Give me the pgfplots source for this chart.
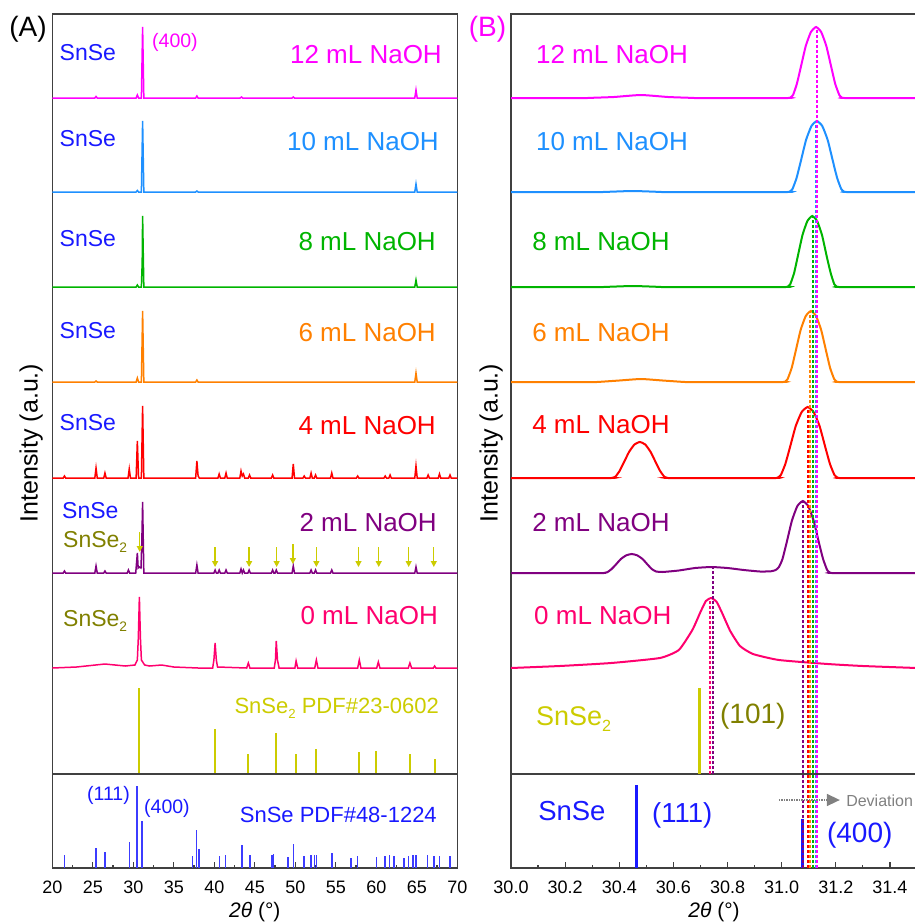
\documentclass[border=0pt]{standalone}
\usepackage{pgfplots}
\pgfplotsset{compat=1.18}
\usepackage{graphicx}
\usepackage{fontspec}
\setmainfont{Liberation Sans}
\usetikzlibrary{arrows.meta}

\newcommand{\fs}[1]{\fontsize{#1}{#1}\selectfont}
\newcommand{\subtwo}{\raisebox{-0.45ex}{\scalebox{0.6}{2}}}

\definecolor{c12}{RGB}{255,0,255}
\definecolor{c10}{RGB}{30,144,255}
\definecolor{c8}{RGB}{0,180,0}
\definecolor{c6}{RGB}{255,128,0}
\definecolor{c4}{RGB}{255,0,0}
\definecolor{c2}{RGB}{128,0,128}
\definecolor{c0}{RGB}{255,0,110}
\definecolor{pdfy}{RGB}{204,204,0}
\definecolor{olivet}{RGB}{128,128,0}
\definecolor{snseb}{RGB}{25,25,255}
\definecolor{pdfb}{RGB}{60,60,255}
\definecolor{frame}{RGB}{64,64,64}
\definecolor{devg}{RGB}{128,128,128}

\pgfplotsset{
  xrdaxis/.style={
    scale only axis, height=854pt, ymin=0, ymax=854, ytick=\empty, clip=false,
    axis line style={line width=1.4pt, draw=frame},
    xtick pos=left, tick align=inside, minor x tick num=1,
    major tick length=6pt, minor tick length=3.5pt,
    tick style={line width=1.2pt, draw=frame},
    xticklabel style={font=\fs{18pt}, inner sep=0pt, yshift=-13pt},
    xlabel={\textit{2θ} (°)},
    xlabel style={font=\fs{21pt}, at={(axis description cs:0.5,0)}, anchor=north, inner sep=0pt, yshift=-34pt},
    ylabel={Intensity (a.u.)},
    ylabel style={font=\fs{25pt}, anchor=south, inner sep=0pt},
    /pgf/number format/assume math mode=true,
  },
  specA/.style={line width=1.5pt},
  specB/.style={line width=2pt, smooth, tension=0.3},
  vdash/.style={line width=2pt, dash pattern=on 3pt off 2pt},
  pdfbar/.style={pdfy, line width=2pt},
}

\begin{document}
\begin{tikzpicture}
\useasboundingbox (0,0) rectangle (915pt,-924pt);

% ===================== Panel A =====================
\begin{axis}[xrdaxis, at={(52.3pt,-868pt)}, anchor=south west, width=405pt,
  xmin=20, xmax=70, xtick={20,25,30,35,40,45,50,55,60,65,70},
  ylabel style={at={(axis description cs:-0.023,0.4977)}}]

% 12 mL
\addplot[c12, specA, y filter/.expression={y+770}] coordinates {
(20,0) (25.25,0) (25.4,1.5) (25.55,0) (30.35,0) (30.5,3) (30.65,0) (31.0,0) (31.15,71) (31.3,0)
(37.7,0) (37.85,2) (38.0,0) (43.2,0) (43.35,1) (43.5,0) (49.6,0) (49.75,1) (49.9,0)
(64.75,0) (64.9,8) (65.05,0) (70,0)};
% 10 mL
\addplot[c10, specA, y filter/.expression={y+676}] coordinates {
(20,0) (30.35,0) (30.5,1.5) (30.65,0) (31.0,0) (31.15,71) (31.3,0) (37.7,0) (37.85,1) (38.0,0)
(64.75,0) (64.9,8) (65.05,0) (70,0)};
% 8 mL
\addplot[c8, specA, y filter/.expression={y+581}] coordinates {
(20,0) (30.35,0) (30.5,2) (30.65,0) (31.0,0) (31.1,25) (31.15,71) (31.3,0)
(64.75,0) (64.9,7) (65.05,0) (70,0)};
% 6 mL
\addplot[c6, specA, y filter/.expression={y+486}] coordinates {
(20,0) (25.25,0) (25.4,1) (25.55,0) (30.35,0) (30.5,4) (30.65,0) (31.0,0) (31.15,71) (31.3,0)
(37.7,0) (37.85,2) (38.0,0) (64.75,0) (64.9,9) (65.05,0) (70,0)};
% 4 mL
\addplot[c4, specA, y filter/.expression={y+390}] coordinates {
(20,0) (21.35,0) (21.5,2) (21.65,0) (25.25,0) (25.4,10) (25.55,0) (26.35,0) (26.5,5) (26.65,0)
(29.35,0) (29.5,9) (29.65,0) (30.35,0) (30.5,37) (30.65,0) (31.0,0) (31.15,72) (31.3,0)
(37.7,0) (37.85,17) (38.0,2) (38.15,0) (40.45,0) (40.6,4) (40.75,0) (41.3,0) (41.45,5) (41.6,0)
(43.15,0) (43.3,7) (43.45,2) (43.6,4) (43.75,0) (44.2,0) (44.35,3) (44.5,0) (47.05,0) (47.2,3) (47.35,0)
(49.6,0) (49.75,14) (49.9,0) (50.95,0) (51.1,2) (51.25,0) (51.8,0) (51.95,5) (52.1,0) (52.35,0) (52.5,3) (52.65,0)
(54.35,0) (54.5,5) (54.65,0) (57.55,0) (57.7,2) (57.85,0) (60.95,0) (61.1,2) (61.25,0) (61.55,0) (61.7,3) (61.85,0)
(64.75,0) (64.9,12) (65.05,0) (66.25,0) (66.4,3) (66.55,0) (67.65,0) (67.8,4) (67.95,0) (68.95,0) (69.1,3) (69.25,0) (70,0)};
% 2 mL
\addplot[c2, specA, y filter/.expression={y+295}] coordinates {
(20,0) (21.35,0) (21.5,2) (21.65,0) (25.25,0) (25.4,7) (25.55,0) (26.35,0) (26.5,2) (26.65,0)
(29.25,0) (29.4,3) (29.55,0) (30.3,0) (30.5,20) (30.6,5) (30.75,6) (30.95,5) (31.05,30) (31.15,71) (31.3,0)
(37.7,0) (37.85,8) (38.0,0) (39.95,0) (40.1,3) (40.25,0) (40.45,0) (40.6,3) (40.75,0) (41.3,0) (41.45,3) (41.6,0)
(43.15,0) (43.3,4) (43.45,0) (43.6,3) (43.75,0) (44.15,0) (44.3,3) (44.45,0) (47.05,0) (47.2,3) (47.35,0)
(47.5,0) (47.65,3) (47.8,0) (49.6,0) (49.75,7) (49.9,0) (51.8,0) (51.95,3) (52.1,0) (52.35,0) (52.5,3) (52.65,0)
(54.35,0) (54.5,3) (54.65,0) (64.75,0) (64.9,6) (65.05,0) (70,0)};
% 0 mL
\addplot[c0, specA, y filter/.expression={y+200}] coordinates {
(20,0) (23,1) (26.5,4) (29,2) (30.2,3) (30.5,8) (30.62,30) (30.75,71) (30.88,30) (31.0,8) (31.4,3) (32,2)
(33.5,3) (35,1) (38,0) (39.8,0) (39.95,8) (40.1,25) (40.25,8) (40.4,1) (44.0,0) (44.2,5) (44.4,0)
(47.4,0) (47.55,8) (47.65,27) (47.8,8) (48.0,0) (49.95,0) (50.1,7) (50.3,0) (52.4,0) (52.6,8) (52.8,0)
(57.7,0) (57.9,8) (58.1,0) (60.05,0) (60.25,6) (60.45,0) (63.95,0) (64.15,5) (64.35,0)
(67.05,0) (67.2,2) (67.35,0) (70,0)};

% SnSe2 PDF bars
\addplot[pdfbar] coordinates {(30.74,94) (30.74,180)};
\addplot[pdfbar] coordinates {(40.1,94) (40.1,139)};
\addplot[pdfbar] coordinates {(44.2,94) (44.2,114)};
\addplot[pdfbar] coordinates {(47.6,94) (47.6,135)};
\addplot[pdfbar] coordinates {(50.1,94) (50.1,114)};
\addplot[pdfbar] coordinates {(52.6,94) (52.6,119)};
\addplot[pdfbar] coordinates {(57.9,94) (57.9,116)};
\addplot[pdfbar] coordinates {(60.0,94) (60.0,117)};
\addplot[pdfbar] coordinates {(64.2,94) (64.2,114)};
\addplot[pdfbar] coordinates {(67.3,94) (67.3,109)};
% separator
\addplot[frame, line width=1.4pt] coordinates {(20,94) (70,94)};
% SnSe PDF bars
\addplot[pdfb, line width=1.5pt, ycomb] coordinates {
(21.5,13) (25.4,20) (26.5,16) (29.5,26) (30.46,82) (31.1,47) (37.3,12) (37.8,38) (38.1,19)
(40.65,12) (41.4,13) (43.4,23) (43.5,20) (44.4,13) (47.1,13) (47.3,14) (49.1,11) (49.8,24)
(51.1,12) (51.96,13) (52.4,13) (52.6,13) (54.5,15) (56.9,10) (57.7,12) (60.0,11) (61.1,12)
(61.6,13) (62.2,12) (63.4,10) (64.0,12) (64.5,13) (64.9,13) (66.3,13) (67.1,12) (67.8,12) (69.1,12)};

% arrows on 2 mL
\addplot[pdfy, line width=1.3pt, -{Triangle[length=6pt,width=6pt]}, quiver={u=0,v=-20}] coordinates {
(30.8,336) (40.1,321) (44.3,321) (47.7,321) (49.7,324) (52.6,321) (57.8,321) (60.3,321) (64.0,321) (67.1,321)};

% texts
\node[anchor=center, font=\fs{28pt}] at (axis description cs:-0.06,0.9824) {(A)};
\node[anchor=base east, inner sep=0pt, font=\fs{26pt}, text=c12] at (axis cs:68.11,804.7) {12 mL NaOH};
\node[anchor=base east, inner sep=0pt, font=\fs{26pt}, text=c10] at (axis cs:67.74,717.3) {10 mL NaOH};
\node[anchor=base east, inner sep=0pt, font=\fs{26pt}, text=c8] at (axis cs:67.37,618) {8 mL NaOH};
\node[anchor=base east, inner sep=0pt, font=\fs{26pt}, text=c6] at (axis cs:67.37,526.3) {6 mL NaOH};
\node[anchor=base east, inner sep=0pt, font=\fs{26pt}, text=c4] at (axis cs:67.37,433.7) {4 mL NaOH};
\node[anchor=base east, inner sep=0pt, font=\fs{26pt}, text=c2] at (axis cs:67.49,337) {2 mL NaOH};
\node[anchor=base east, inner sep=0pt, font=\fs{26pt}, text=c0] at (axis cs:67.62,243.7) {0 mL NaOH};
\node[anchor=base west, inner sep=0pt, font=\fs{23pt}, text=snseb] at (axis cs:20.89,808) {SnSe};
\node[anchor=base west, inner sep=0pt, font=\fs{23pt}, text=snseb] at (axis cs:20.89,722) {SnSe};
\node[anchor=base west, inner sep=0pt, font=\fs{23pt}, text=snseb] at (axis cs:20.89,621.5) {SnSe};
\node[anchor=base west, inner sep=0pt, font=\fs{23pt}, text=snseb] at (axis cs:20.89,530) {SnSe};
\node[anchor=base west, inner sep=0pt, font=\fs{23pt}, text=snseb] at (axis cs:20.89,437.5) {SnSe};
\node[anchor=base west, inner sep=0pt, font=\fs{23pt}, text=snseb] at (axis cs:21.2,350) {SnSe};
\node[anchor=base west, inner sep=0pt, font=\fs{23pt}, text=olivet] at (axis cs:21.32,321) {SnSe\subtwo};
\node[anchor=base west, inner sep=0pt, font=\fs{23pt}, text=olivet] at (axis cs:21.32,242) {SnSe\subtwo};
\node[anchor=base west, inner sep=0pt, font=\fs{19.5pt}, text=c12] at (axis cs:32.31,821) {(400)};
\node[anchor=base west, inner sep=0pt, font=\fs{19.5pt}, text=snseb] at (axis cs:24.28,68) {(111)};
\node[anchor=base west, inner sep=0pt, font=\fs{19.5pt}, text=snseb] at (axis cs:31.32,55) {(400)};
\node[anchor=base east, inner sep=0pt, font=\fs{22pt}, text=snseb] at (axis cs:67.49,46) {SnSe PDF\#48-1224};
\node[anchor=base east, inner sep=0pt, font=\fs{22pt}, text=pdfy] at (axis cs:67.74,155) {SnSe\subtwo\ PDF\#23-0602};
\end{axis}

% ===================== Panel B =====================
\begin{axis}[xrdaxis, at={(511pt,-868pt)}, anchor=south west, width=406pt,
  xmin=30, xmax=31.5, xtick={30,30.2,30.4,30.6,30.8,31,31.2,31.4},
  xticklabel style={/pgf/number format/.cd, fixed, fixed zerofill, precision=1},
  ylabel style={at={(axis description cs:-0.0198,0.4977)}}]

\addplot[c12, specB, y filter/.expression={y+770}] coordinates {
(30.0,0) (30.28,0) (30.3,0.2) (30.38,1) (30.48,3) (30.58,1) (30.66,0.2) (30.68,0)
(31.022,0) (31.032,0.5) (31.042,3) (31.056,14) (31.070,30)
(31.089,52) (31.108,66) (31.127,71) (31.146,66) (31.165,52) (31.184,30) (31.198,14) (31.213,3) (31.222,0.5) (31.232,0) (31.5,0)};
\addplot[c10, specB, y filter/.expression={y+676}] coordinates {
(30.0,0) (30.33,0) (30.35,0.1) (30.45,1) (30.55,0.1) (30.57,0)
(31.02,0) (31.03,0.5) (31.04,3) (31.055,14) (31.07,30) (31.09,52) (31.11,66)
(31.13,71) (31.15,66) (31.17,52) (31.19,30) (31.205,14) (31.22,3) (31.23,0.5) (31.24,0) (31.5,0)};
\addplot[c8, specB, y filter/.expression={y+581}] coordinates {
(30.0,0) (30.33,0) (30.35,0.1) (30.45,1) (30.55,0.1) (30.57,0)
(31.013,0) (31.023,0.5) (31.032,3) (31.046,14) (31.059,30) (31.077,52) (31.095,66)
(31.113,71) (31.131,66) (31.149,52) (31.167,30) (31.181,14) (31.194,3) (31.203,0.5) (31.213,0) (31.5,0)};
\addplot[c6, specB, y filter/.expression={y+486}] coordinates {
(30.0,0) (30.31,0) (30.33,0.2) (30.40,1.5) (30.48,3) (30.56,1.5) (30.63,0.2) (30.65,0)
(31.003,0) (31.013,0.5) (31.022,3) (31.037,14) (31.051,30)
(31.070,52) (31.089,66) (31.108,71) (31.127,66) (31.146,52) (31.165,30) (31.179,14) (31.194,3) (31.203,0.5) (31.213,0) (31.5,0)};
\addplot[c4, specB, y filter/.expression={y+390}] coordinates {
(30.0,0) (30.366,0) (30.376,0.3) (30.386,1.4) (30.401,7) (30.416,15) (30.436,26) (30.456,33.5) (30.476,36) (30.496,33.5)
(30.516,26) (30.536,15) (30.551,7) (30.566,1.4) (30.576,0.3) (30.586,0)
(30.976,0) (30.986,0.5) (30.997,3) (31.0135,14) (31.03,30)
(31.052,52) (31.074,66) (31.096,71) (31.118,66) (31.14,52) (31.162,30) (31.1785,14) (31.195,3) (31.206,0.5) (31.216,0) (31.5,0)};
\addplot[c2, specB, y filter/.expression={y+295}] coordinates {
(30.0,0) (30.336,0) (30.346,0.2) (30.356,0.8) (30.371,3.8) (30.386,8) (30.406,14) (30.426,17.7) (30.446,19) (30.466,17.7)
(30.486,14) (30.506,8) (30.521,3.8) (30.536,1.5) (30.56,1) (30.62,2.5) (30.68,5) (30.74,6) (30.8,5)
(30.86,3) (30.92,1.5) (30.96,1.7) (30.978,3) (30.99,6) (31.003,14) (31.018,30) (31.038,52.5) (31.058,67)
(31.078,72) (31.098,67) (31.118,52.5) (31.138,30) (31.153,14) (31.168,3) (31.178,0.5) (31.188,0) (31.5,0)};
\addplot[c0, specB, y filter/.expression={y+200}] coordinates {
(30.0,0) (30.18,2) (30.37,5) (30.55,10) (30.62,18) (30.67,38) (30.70,56) (30.72,67) (30.74,70) (30.76,66)
(30.78,55) (30.81,37) (30.846,22) (30.894,14) (30.99,8) (31.17,4) (31.3,2) (31.5,0)};

% separator
\addplot[frame, line width=1.4pt] coordinates {(30,94) (31.5,94)};
% reference bars
\addplot[pdfy, line width=3pt] coordinates {(30.697,94) (30.697,180)};
\addplot[snseb, line width=3pt] coordinates {(30.462,0) (30.462,83)};
\addplot[snseb, line width=3pt] coordinates {(31.076,0) (31.076,49)};

% dashed guide lines
\addplot[c0, vdash] coordinates {(30.735,94) (30.735,270)};
\addplot[c2, vdash] coordinates {(30.748,94) (30.748,301)};
\addplot[c2, vdash] coordinates {(31.078,0) (31.078,367)};
\addplot[c4, vdash] coordinates {(31.096,0) (31.096,461)};
\addplot[c6, vdash] coordinates {(31.105,0) (31.105,557)};
\addplot[c8, vdash] coordinates {(31.114,0) (31.114,652)};
\addplot[c10, vdash] coordinates {(31.125,0) (31.125,747)};
\addplot[c12, vdash] coordinates {(31.132,0) (31.132,841)};

% deviation arrow
\addplot[devg, line width=1.5pt, densely dotted, -{Triangle[length=13pt,width=12pt]}] coordinates {(30.99,68) (31.215,68)};
\node[anchor=base west, inner sep=0pt, font=\fs{16pt}, text=devg] at (axis cs:31.238,62) {Deviation};

% texts
\node[anchor=center, font=\fs{28pt}, text=c12] at (axis description cs:-0.058,0.9824) {(B)};
\node[anchor=base west, inner sep=0pt, font=\fs{26pt}, text=c12] at (axis cs:30.092,804.7) {12 mL NaOH};
\node[anchor=base west, inner sep=0pt, font=\fs{26pt}, text=c10] at (axis cs:30.092,717.3) {10 mL NaOH};
\node[anchor=base west, inner sep=0pt, font=\fs{26pt}, text=c8] at (axis cs:30.078,618) {8 mL NaOH};
\node[anchor=base west, inner sep=0pt, font=\fs{26pt}, text=c6] at (axis cs:30.078,526.3) {6 mL NaOH};
\node[anchor=base west, inner sep=0pt, font=\fs{26pt}, text=c4] at (axis cs:30.078,434.5) {4 mL NaOH};
\node[anchor=base west, inner sep=0pt, font=\fs{26pt}, text=c2] at (axis cs:30.078,337) {2 mL NaOH};
\node[anchor=base west, inner sep=0pt, font=\fs{26pt}, text=c0] at (axis cs:30.085,243.7) {0 mL NaOH};
\node[anchor=base west, inner sep=0pt, font=\fs{27pt}, text=pdfy] at (axis cs:30.092,143) {SnSe\subtwo};
\node[anchor=base west, inner sep=0pt, font=\fs{28pt}, text=olivet] at (axis cs:30.772,145) {(101)};
\node[anchor=base west, inner sep=0pt, font=\fs{27.5pt}, text=snseb] at (axis cs:30.1,48) {SnSe};
\node[anchor=base west, inner sep=0pt, font=\fs{27.5pt}, text=snseb] at (axis cs:30.521,46) {(111)};
\node[anchor=base west, inner sep=0pt, font=\fs{28pt}, text=snseb] at (axis cs:31.167,26) {(400)};
\end{axis}
\end{tikzpicture}
\end{document}
